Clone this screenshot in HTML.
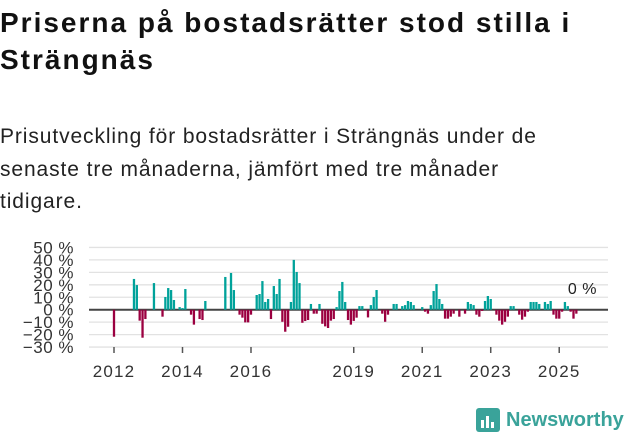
<!DOCTYPE html>
<html><head><meta charset="utf-8">
<style>
body{margin:0;background:#fff;width:631px;height:439px;overflow:hidden;font-family:"Liberation Sans",sans-serif;color:#111;}
h1{position:absolute;left:0;top:4px;margin:0;font-size:28px;letter-spacing:2px;line-height:37px;font-weight:bold;width:631px;white-space:nowrap;}
p{position:absolute;left:0;top:121px;margin:0;font-size:21px;letter-spacing:0.9px;line-height:32.5px;width:631px;color:#222;white-space:nowrap;}
svg{position:absolute;left:0;top:0;}
</style></head><body>
<h1>Priserna på bostadsrätter stod stilla i<br>Strängnäs</h1>
<p>Prisutveckling för bostadsrätter i Strängnäs under de<br>senaste tre månaderna, jämfört med tre månader<br>tidigare.</p>
<svg id="chart" width="631" height="439"></svg>
<div style="position:absolute;left:476px;top:408px;display:flex;align-items:center;">
<svg width="24" height="24" style="position:static"><rect x="0" y="0" width="24" height="24" rx="3" fill="#3aa39a"/><rect x="5" y="12" width="3" height="8" fill="#fff"/><rect x="10" y="8" width="3" height="12" fill="#fff"/><rect x="15" y="14" width="3" height="6" fill="#fff"/></svg>
<span style="margin-left:6px;font-size:20px;font-weight:bold;color:#3aa39a;">Newsworthy</span></div>
<script>
const values = [
-21.7,0,0,0,0,0,0,24.7,19.8,-8.8,-22.5,-7.5,
0,0,21.4,0,0,-5.6,10.2,17.4,15.8,7.8,0,2.1,
1.3,16.6,0,-4,-12,0,-7.5,-8.3,7,0,0,0,
0,0,0,26.3,0,29.5,15.8,0,-4,-6.4,-10.2,-10.2,
-4,0,11.8,12.6,23,6.2,8.6,-7.5,19,12.6,24.7,-9.7,
-17.7,-13.7,6.2,40,30.3,21.4,-10.5,-9.1,-8.3,4.6,-3.2,-3.2,
4.6,-11.3,-13.4,-14.7,-8.8,-7.5,2.1,15,22.3,6.2,-8.3,-12,
-9,-6.4,2.9,2.9,0,-6.2,3.7,10.2,15.8,0,-3.2,-9.7,
-4,0,4.6,4.6,0,2.9,3.7,7,6.2,3.7,0,0,
2.1,-1.6,-3.2,3.7,15,20.6,8.6,4.6,-7.2,-7.2,-5.6,-3.2,
0,-5.6,0,-3.2,6.2,4.6,3.7,-4,-5.6,-1,7,11,
8.6,0,-4,-8.8,-12,-9.7,-5.6,2.9,2.9,0,-4,-8,
-5.6,-1.6,6.2,6.2,6.2,4.6,0,6.2,4.6,7,-4,-7.2,
-7.2,-1.6,6.2,2.9,-1.6,-7.2,-3.2,0];
const startYear = 2012;
const yTicks = [50,40,30,20,10,0,-10,-20,-30];
const xYears = [2012,2014,2016,2019,2021,2023,2025];
const lastLabel = "0 %";

const NS="http://www.w3.org/2000/svg";
const svg=document.getElementById('chart');
const x0=114, pxMonth=2.854, yZero=309.7, pxPct=1.245;
const xs=m=>x0+m*pxMonth;
const ys=v=>yZero-v*pxPct;
function mk(t,a){const e=document.createElementNS(NS,t);for(const k in a)e.setAttribute(k,a[k]);svg.appendChild(e);return e;}
yTicks.forEach(t=>{
  const g=mk('line',{x1:89,x2:608,y1:ys(t),y2:ys(t),stroke:t===0?'#444':'#e2e2e2','stroke-width':t===0?2:1.3});
  
  
  const l=mk('text',{x:74,y:ys(t)+6,'text-anchor':'end','font-size':17,'letter-spacing':0.5,fill:'#333'});
  l.textContent=(t<0?'\u2212'+(-t):t)+' %';
  
  
});
values.forEach((v,m)=>{
  if(v===0)return;
  const r=mk('rect',{x:xs(m)-1.15,width:2.3,y:v>0?ys(v):yZero,height:Math.abs(v)*pxPct,fill:v>0?'#00a29a':'#9b0040'});
  
  
});
xYears.forEach(yr=>{
  const x=xs((yr-startYear)*12);
  const t=mk('line',{x1:x,x2:x,y1:347,y2:353,stroke:'#555','stroke-width':1.5});
  
  
  const l=mk('text',{x:x,y:377,'text-anchor':'middle','font-size':17,'letter-spacing':1.2,fill:'#333'});
  l.textContent=yr;
  
  
});
const ll=mk('text',{x:597,y:294,'text-anchor':'end','font-size':16,'letter-spacing':0.5,fill:'#222'});
ll.textContent=lastLabel;


</script>
</body></html>
